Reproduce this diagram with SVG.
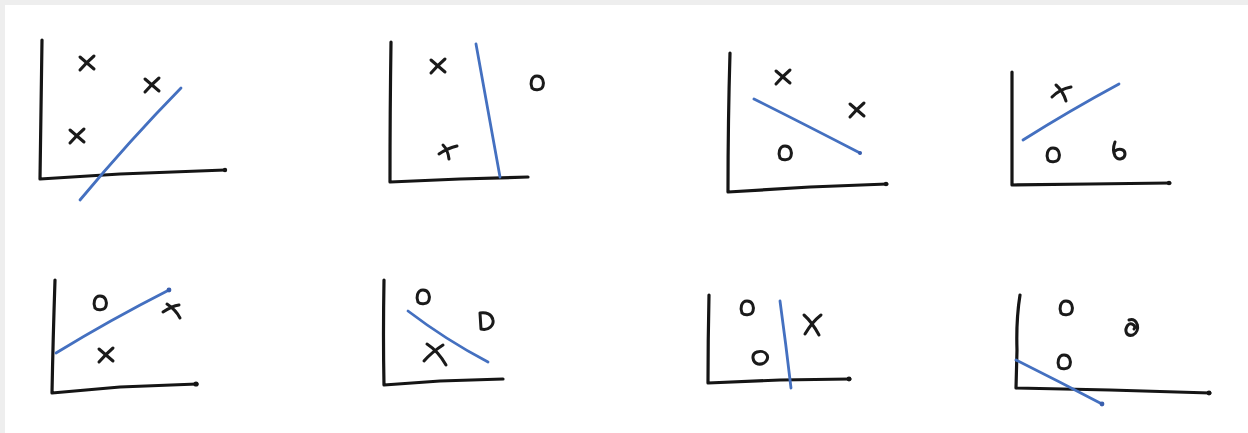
<svg xmlns="http://www.w3.org/2000/svg" xmlns:xlink="http://www.w3.org/1999/xlink" width="1248" height="433" viewBox="0 0 1248 433">
<style>
.axis{fill:none;stroke:#151515;stroke-width:3.2;stroke-linecap:round;stroke-linejoin:round}
.mk{fill:none;stroke:#1a1a1a;stroke-width:3;stroke-linecap:round;stroke-linejoin:round}
.blue{fill:none;stroke:#4470c0;stroke-width:2.8;stroke-linecap:round}
.dot{fill:#151515}
.bdot{fill:#3a5fae}
</style>
<defs>
<path id="xm" class="mk" d="M-7,-6 Q0,0 7,6 M7,-7 Q0,-1 -7,7"/>
<path id="om" class="mk" d="M0,-7 C6,-7 7,-1 6,3 C5,7 -2,8 -5,5 C-7,1 -6,-7 0,-7 Z"/>
</defs>
<rect x="0" y="0" width="1248" height="433" fill="#ffffff"/>
<rect x="0" y="0" width="1248" height="5" fill="#eeeeee"/>
<rect x="0" y="0" width="5" height="433" fill="#eeeeee"/>

<g id="panel1">
<path class="axis" d="M42,40 Q41,110 40,179 L120,174 L225,170"/>
<circle class="dot" cx="225" cy="170" r="2.2"/>
<use xlink:href="#xm" x="87" y="63"/>
<use xlink:href="#xm" x="152" y="85"/>
<use xlink:href="#xm" x="77" y="136"/>
<path class="blue" d="M80,200 Q130,140 181,88"/>
</g>

<g id="panel2">
<path class="axis" d="M391,42 Q390,110 390,182 L460,179 L528,177"/>
<use xlink:href="#xm" x="438" y="66"/>
<path class="mk" d="M443,145 Q448,150 449,159 M439,154 Q448,148 457,146"/>
<use xlink:href="#om" x="537" y="83"/>
<path class="blue" d="M476,44 Q488,110 500,177"/>
</g>

<g id="panel3">
<path class="axis" d="M730,53 Q728,120 728,192 L810,187 L887,184"/>
<circle class="dot" cx="886" cy="184" r="2.2"/>
<use xlink:href="#xm" x="783" y="77"/>
<use xlink:href="#xm" x="857" y="110"/>
<use xlink:href="#om" x="785" y="153"/>
<path class="blue" d="M754,99 Q800,122 860,153"/>
<circle class="bdot" cx="860" cy="153" r="2"/>
</g>

<g id="panel4">
<path class="axis" d="M1012,72 Q1012,130 1012,185 L1090,184 L1170,183"/>
<circle class="dot" cx="1169" cy="183" r="2.2"/>
<path class="mk" d="M1056,85 Q1063,91 1066,101 M1052,97 Q1060,89 1071,87"/>
<use xlink:href="#om" x="1053" y="155"/>
<path class="mk" d="M1115,142 Q1112,150 1115,156 C1118,161 1125,159 1125,154 C1125,149 1119,148 1115,151"/>
<path class="blue" d="M1023,140 Q1069,111 1119,84"/>
</g>

<g id="panel5">
<path class="axis" d="M55,280 Q53,340 52,393 L120,387 L197,384"/>
<circle class="dot" cx="196" cy="384" r="2.6"/>
<use xlink:href="#om" x="100" y="303"/>
<path class="mk" d="M163,312 Q172,306 179,305 M167,304 Q176,310 180,318"/>
<use xlink:href="#xm" x="106" y="355"/>
<path class="blue" d="M56,353 Q110,320 169,290"/>
<circle class="bdot" cx="169" cy="290" r="2.4"/>
</g>

<g id="panel6">
<path class="axis" d="M384,280 Q383,335 384,385 L440,381 L503,379"/>
<use xlink:href="#om" x="423" y="297"/>
<path class="mk" d="M480,313 L481,329 C489,331 494,325 493,320 C492,314 486,312 480,313"/>
<path class="mk" d="M424,361 Q432,352 443,345 M427,344 Q438,351 446,365"/>
<path class="blue" d="M408,311 Q446,340 488,362"/>
</g>

<g id="panel7">
<path class="axis" d="M709,295 Q708,340 708,383 L780,380 L850,379"/>
<circle class="dot" cx="849" cy="379" r="2.4"/>
<use xlink:href="#om" x="747" y="308"/>
<path class="mk" d="M757,352 C751,354 752,362 758,364 C765,365 769,359 767,355 C765,351 760,351 757,352"/>
<path class="mk" d="M804,315 Q812,322 819,335 M805,334 Q812,322 821,315"/>
<path class="blue" d="M780,301 Q786,345 791,388"/>
</g>

<g id="panel8">
<path class="axis" d="M1020,295 Q1016,320 1017,350 L1016,388 L1110,390 L1210,393"/>
<circle class="dot" cx="1209" cy="393" r="2.4"/>
<use xlink:href="#om" x="1066" y="308"/>
<path class="mk" d="M1129,320 C1138,317 1141,331 1133,335 C1126,337 1124,330 1128,325 C1131,322 1137,326 1134,329"/>
<use xlink:href="#om" x="1064" y="362"/>
<path class="blue" d="M1016,360 Q1060,382 1102,404"/>
<circle class="bdot" cx="1102" cy="404" r="2.4"/>
</g>
</svg>
